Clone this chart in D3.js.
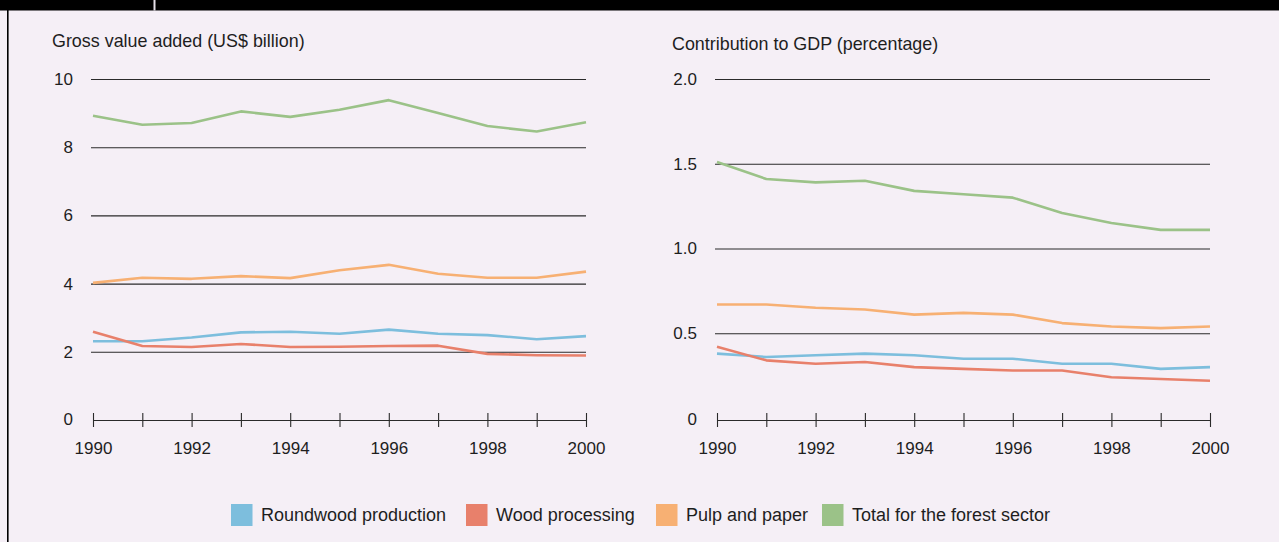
<!DOCTYPE html>
<html>
<head>
<meta charset="utf-8">
<script src="https://cdn.jsdelivr.net/npm/d3@7"></script>
<style>
  html, body { margin: 0; padding: 0; background: #f5eff6; }
  svg { display: block; }
  text { font-family: "Liberation Sans", Arial, sans-serif; fill: #1e1e1e; }
</style>
</head>
<body>
<svg id="chart" width="1279" height="542"></svg>
<script>
// Years on the horizontal axis
const years = [1990, 1991, 1992, 1993, 1994, 1995, 1996, 1997, 1998, 1999, 2000];
const yearLabels = [1990, 1992, 1994, 1996, 1998, 2000];

// Series names and colours
const seriesNames = ["Roundwood production", "Wood processing", "Pulp and paper", "Total for the forest sector"];
const seriesColors = ["#7dbedd", "#e8806b", "#f7b073", "#9bc288"];

// Gross value added, US$ billion
const gvaRoundwood = [2.31, 2.31, 2.42, 2.57, 2.59, 2.53, 2.65, 2.53, 2.49, 2.37, 2.46];
const gvaWood      = [2.59, 2.17, 2.14, 2.23, 2.14, 2.15, 2.17, 2.18, 1.94, 1.90, 1.89];
const gvaPulp      = [4.02, 4.17, 4.14, 4.22, 4.16, 4.39, 4.55, 4.29, 4.17, 4.17, 4.35];
const gvaTotal     = [8.92, 8.66, 8.71, 9.05, 8.89, 9.10, 9.38, 9.00, 8.62, 8.46, 8.73];
const gvaTicks = [0, 2, 4, 6, 8, 10];

// Contribution to GDP, percentage
const gdpRoundwood = [0.38, 0.36, 0.37, 0.38, 0.37, 0.35, 0.35, 0.32, 0.32, 0.29, 0.30];
const gdpWood      = [0.42, 0.34, 0.32, 0.33, 0.30, 0.29, 0.28, 0.28, 0.24, 0.23, 0.22];
const gdpPulp      = [0.67, 0.67, 0.65, 0.64, 0.61, 0.62, 0.61, 0.56, 0.54, 0.53, 0.54];
const gdpTotal     = [1.51, 1.41, 1.39, 1.40, 1.34, 1.32, 1.30, 1.21, 1.15, 1.11, 1.11];
const gdpTicks = [0, 0.5, 1.0, 1.5, 2.0];

const svg = d3.select("#chart");
const W = 1279, H = 542;

// Frame: black top band with a small break, and a thin left rule
svg.append("rect").attr("x", 0).attr("y", 0).attr("width", W).attr("height", 10.5).attr("fill", "#000");
svg.append("rect").attr("x", 153.5).attr("y", 0).attr("width", 2).attr("height", 10.5).attr("fill", "#e6e0e8");
svg.append("rect").attr("x", 7).attr("y", 0).attr("width", 1.6).attr("height", H).attr("fill", "#000");

function panel(opts) {
  const x = d3.scaleLinear().domain([1990, 2000]).range([opts.x0, opts.x1]);
  const y = d3.scaleLinear().domain([0, opts.yMax]).range([opts.yBottom, opts.yTop]);
  const g = svg.append("g");

  // Title
  g.append("text")
    .attr("x", opts.titleX).attr("y", opts.titleY)
    .style("font-size", "17.9px")
    .text(opts.title);

  // Horizontal gridlines with value labels
  const yAxis = d3.axisLeft(y)
    .tickValues(opts.ticks)
    .tickSize(-(opts.x1 - opts.x0 + 2))
    .tickPadding(18)
    .tickFormat(opts.fmt);
  const ya = g.append("g")
    .attr("transform", `translate(${opts.x0 - 2},0)`)
    .call(yAxis);
  ya.select(".domain").remove();
  ya.selectAll(".tick line")
    .attr("stroke", "#2a2a2a")
    .attr("stroke-width", 1.1)
    .attr("opacity", d => d === 0 ? 0 : 1);
  ya.selectAll(".tick text")
    .style("font-size", "17px")
    .style("font-family", "'Liberation Sans', Arial, sans-serif")
    .attr("fill", "#1e1e1e");
  ya.selectAll(".tick").filter(d => d === 0)
    .attr("transform", `translate(0,${opts.axisY})`);

  // Year axis with ticks crossing the baseline
  const xAxis = d3.axisBottom(x)
    .tickValues(years)
    .tickSizeInner(7)
    .tickSizeOuter(0)
    .tickPadding(15)
    .tickFormat(d => yearLabels.includes(d) ? String(d) : "");
  const xa = g.append("g")
    .attr("transform", `translate(0,${opts.axisY})`)
    .call(xAxis);
  xa.select(".domain").attr("stroke", "#2a2a2a").attr("stroke-width", 1.2);
  xa.selectAll(".tick line").attr("y1", -7).attr("y2", 7).attr("stroke", "#2a2a2a").attr("stroke-width", 1.1);
  xa.selectAll(".tick text")
    .style("font-size", "17px")
    .style("font-family", "'Liberation Sans', Arial, sans-serif")
    .attr("fill", "#1e1e1e");

  // Series lines
  const line = d3.line().x((d, i) => x(years[i])).y(d => y(d));
  opts.series.forEach((vals, k) => {
    g.append("path")
      .datum(vals)
      .attr("d", line)
      .attr("fill", "none")
      .attr("stroke", seriesColors[k])
      .attr("stroke-width", 2.6)
      .attr("stroke-linejoin", "round");
  });
}

panel({
  title: "Gross value added (US$ billion)", titleX: 52, titleY: 47,
  x0: 93, x1: 586, yTop: 79, yBottom: 420, axisY: 420, yMax: 10,
  ticks: gvaTicks, fmt: d3.format("d"),
  series: [gvaRoundwood, gvaWood, gvaPulp, gvaTotal]
});

panel({
  title: "Contribution to GDP (percentage)", titleX: 672, titleY: 50,
  x0: 717, x1: 1210, yTop: 79, yBottom: 418, axisY: 420, yMax: 2,
  ticks: gdpTicks, fmt: d => d === 0 ? "0" : d3.format(".1f")(d),
  series: [gdpRoundwood, gdpWood, gdpPulp, gdpTotal]
});

// Legend
const legendX = [231, 466, 656, 822];
const legend = svg.append("g");
seriesNames.forEach((name, k) => {
  legend.append("rect")
    .attr("x", legendX[k]).attr("y", 504)
    .attr("width", 21.5).attr("height", 22)
    .attr("fill", seriesColors[k]);
  legend.append("text")
    .attr("x", legendX[k] + 30).attr("y", 521)
    .style("font-size", "18px")
    .text(name);
});
</script>
</body>
</html>
